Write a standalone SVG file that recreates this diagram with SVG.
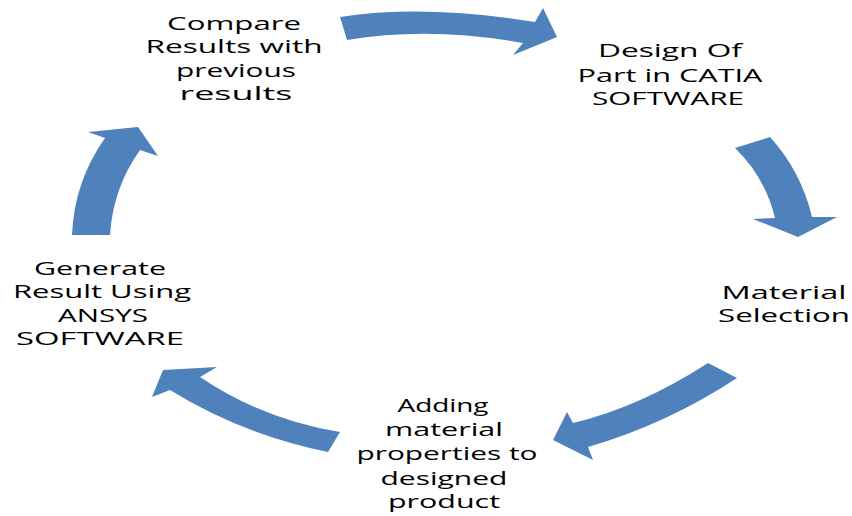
<svg xmlns="http://www.w3.org/2000/svg" width="852" height="516" viewBox="0 0 852 516">
<style>
.lbl{font-family:"Open Sans","DejaVu Sans",sans-serif;font-size:18px;fill:#000;text-anchor:middle}
.arr{fill:#4F81BD;stroke:none}
</style>
<rect width="852" height="516" fill="#fff"/>
<g id="connectors">
<path class="arr" d="M340,17 Q425,4 535,22 L543,8 L557,37 L513,55 L523,43 Q430,26 347,40 Z"/>
<path class="arr" d="M735,148 Q765,177 775,218 L753,219 L798,237 L837,217 L812,217 Q801,171 770,137 Z"/>
<path class="arr" d="M708,363 Q640,407 573,423 L567,412 L553,440 L593,460 L588,447 Q667,424 737,378 Z"/>
<path class="arr" d="M340,432 Q264,420 200,377 L217,367 L163,370 L152,397 L170,390 Q243,435 328,452 Z"/>
<path class="arr" d="M72,235 Q74,182 105,138 L88,132 L138,127 L158,156 L140,150 Q113,188 110,235 Z"/>
</g>
<g id="node-compare">
<text class="lbl" x="234" y="30" textLength="134" lengthAdjust="spacingAndGlyphs">Compare</text>
<text class="lbl" x="234" y="53" textLength="177" lengthAdjust="spacingAndGlyphs">Results with</text>
<text class="lbl" x="236" y="77" textLength="120" lengthAdjust="spacingAndGlyphs">previous</text>
<text class="lbl" x="236" y="100" textLength="113" lengthAdjust="spacingAndGlyphs">results</text>
</g>
<g id="node-design">
<text class="lbl" x="670" y="57" textLength="144" lengthAdjust="spacingAndGlyphs">Design Of</text>
<text class="lbl" x="670" y="82" textLength="185" lengthAdjust="spacingAndGlyphs">Part in CATIA</text>
<text class="lbl" x="668" y="105" textLength="152" lengthAdjust="spacingAndGlyphs">SOFTWARE</text>
</g>
<g id="node-material">
<text class="lbl" x="784" y="299" textLength="125" lengthAdjust="spacingAndGlyphs">Material</text>
<text class="lbl" x="784" y="322" textLength="132" lengthAdjust="spacingAndGlyphs">Selection</text>
</g>
<g id="node-adding">
<text class="lbl" x="443" y="412" textLength="91" lengthAdjust="spacingAndGlyphs">Adding</text>
<text class="lbl" x="444" y="436" textLength="118" lengthAdjust="spacingAndGlyphs">material</text>
<text class="lbl" x="447" y="460" textLength="181" lengthAdjust="spacingAndGlyphs">properties to</text>
<text class="lbl" x="444" y="485" textLength="127" lengthAdjust="spacingAndGlyphs">designed</text>
<text class="lbl" x="444" y="508" textLength="112" lengthAdjust="spacingAndGlyphs">product</text>
</g>
<g id="node-generate">
<text class="lbl" x="100" y="275" textLength="132" lengthAdjust="spacingAndGlyphs">Generate</text>
<text class="lbl" x="102" y="298" textLength="178" lengthAdjust="spacingAndGlyphs">Result Using</text>
<text class="lbl" x="103" y="322" textLength="90" lengthAdjust="spacingAndGlyphs">ANSYS</text>
<text class="lbl" x="100" y="345" textLength="168" lengthAdjust="spacingAndGlyphs">SOFTWARE</text>
</g>
</svg>
